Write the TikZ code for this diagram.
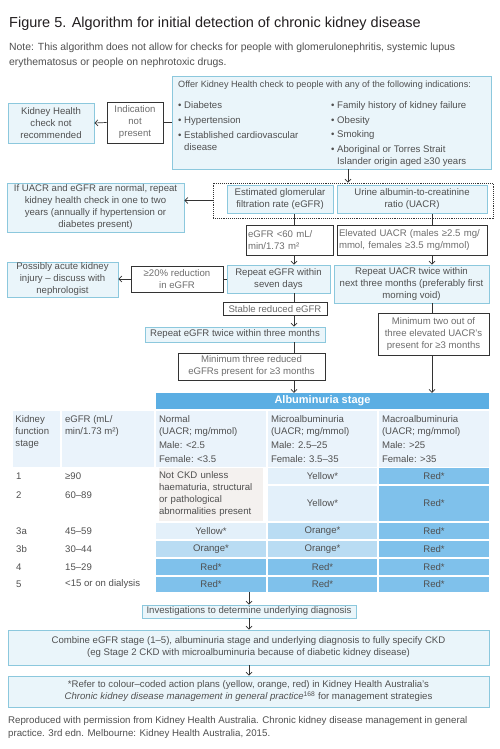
\documentclass[tikz,border=0pt]{standalone}
\usepackage{fontspec}
\setmainfont{Liberation Sans}
\usetikzlibrary{arrows.meta, positioning, calc}

\definecolor{ink}{HTML}{505050}
\definecolor{greyink}{HTML}{6E6E6E}
\definecolor{titleink}{HTML}{231F20}
\definecolor{boxfill}{HTML}{EAF5FA}
\definecolor{boxline}{HTML}{8CC8DD}
\definecolor{darkline}{HTML}{333333}
\definecolor{headblue}{HTML}{5BAEE3}
\definecolor{headrow}{HTML}{EAF3FB}
\definecolor{ckdfill}{HTML}{F4F1EF}
% cell colours, named as the table prints them
\definecolor{Yellow}{HTML}{E3F0FA}
\definecolor{Orange}{HTML}{B9DCF3}
\definecolor{Red}{HTML}{7FC1EB}

% text pinned to the top of a table cell
\newcommand{\topcell}[3]{\parbox[c][#1][t]{#2}{\raggedright #3}}

\begin{document}
\begin{tikzpicture}[
    x=1pt, y=-1pt,
    every node/.style={font=\fontsize{9.6}{12}\selectfont, text=ink},
    bluebox/.style={draw=boxline, fill=boxfill, line width=0.9pt, align=center, inner sep=1pt},
    darkbox/.style={draw=darkline, fill=white, line width=0.8pt, align=center, inner sep=2pt, text=greyink},
    headcell/.style={fill=headrow, inner sep=0pt},
    cell/.style={inner sep=0pt, align=center},
    arrow/.style={-{Straight Barb[length=3pt,width=6pt]}, darkline, line width=0.7pt},
    link/.style={darkline, line width=0.7pt}
  ]
  \path[use as bounding box, fill=white] (0,0) rectangle (500,749);

  % columns the vertical connectors run down
  \coordinate (drop) at (348,0);
  \coordinate (gcol) at (294,0);
  \coordinate (ucol) at (432,0);

  \node[anchor=base west, inner sep=0pt, font=\fontsize{14.5}{17}\selectfont, text=titleink] (title)
    at (9,28) {Figure 5. Algorithm for initial detection of chronic kidney disease};
  \node[anchor=north west, align=left, inner sep=0pt, font=\fontsize{10.4}{15}\selectfont] (note)
    at (9,43) {Note: This algorithm does not allow for checks for people with glomerulonephritis, systemic lupus\\
    erythematosus or people on nephrotoxic drugs.};

  % indications
  \node[bluebox, minimum width=319, minimum height=93] (offer) at (331.5,122.5) {};
  \node[anchor=west, inner sep=0pt, font=\fontsize{9.1}{11}\selectfont] (offerhead)
    at (178,85) {Offer Kidney Health check to people with any of the following indications:};
  \node[anchor=north west, align=left, inner sep=0pt] (riskL) at (178,101.5)
    {\textbullet\ Diabetes\\[3pt]\textbullet\ Hypertension\\[3pt]\textbullet\ Established cardiovascular\\\hphantom{\textbullet\ }disease};
  \node[anchor=north west, align=left, inner sep=0pt] (riskR) at (331,101.5)
    {\textbullet\ Family history of kidney failure\\[2.5pt]\textbullet\ Obesity\\[2.5pt]\textbullet\ Smoking\\[2.5pt]\textbullet\ Aboriginal or Torres Strait\\\hphantom{\textbullet\ }Islander origin aged ≥30 years};

  \node[bluebox, minimum width=86, minimum height=40] (notrec) at (51,123) {Kidney Health\\check not\\recommended};
  \node[darkbox, minimum width=56, minimum height=41, inner sep=1pt] (noind) at (135,122.5) {Indication\\not\\present};
  \draw[link] (offer.west) -- (noind.east);
  \draw[arrow] (noind.west) -- (notrec.east);

  % first tests
  \node[draw=darkline, densely dotted, line width=0.9pt, minimum width=280, minimum height=35] (tests) at (353,200.5) {};
  \node[bluebox, minimum width=106, minimum height=28] (egfr) at (280,199.5) {Estimated glomerular\\filtration rate (eGFR)};
  \node[bluebox, minimum width=150, minimum height=28] (uacr) at (412,199.5) {Urine albumin-to-creatinine\\ratio (UACR)};
  \draw[arrow] (offer.south -| drop) -- (tests.north -| drop);

  \node[bluebox, minimum width=177, minimum height=49] (ifnormal) at (95.5,207.5)
    {If UACR and eGFR are normal, repeat\\kidney health check in one to two\\years (annually if hypertension or\\diabetes present)};
  \draw[arrow] (tests.west) -- (tests.west -| ifnormal.east);

  % eGFR branch
  \node[darkbox, align=left, text width=83, minimum height=30] (lowegfr) at (289.5,240) {eGFR <60 mL/\\min/1.73 m²};
  \draw[link] (egfr.south -| gcol) -- (lowegfr.north -| gcol);
  \node[bluebox, minimum width=103, minimum height=28] (repeatsev) at (278.5,279) {Repeat eGFR within\\seven days};
  \draw[arrow] (lowegfr.south -| gcol) -- (repeatsev.north -| gcol);

  \node[darkbox, minimum width=92, minimum height=26, inner sep=1pt] (reduction) at (177,279) {≥20\% reduction\\in eGFR};
  \node[bluebox, minimum width=111, minimum height=35] (possibly) at (62.5,279.5) {Possibly acute kidney\\injury – discuss with\\nephrologist};
  \draw[link] (repeatsev.west) -- (reduction.east);
  \draw[arrow] (reduction.west) -- (reduction.west -| possibly.east);

  \node[darkbox, minimum width=104, minimum height=12.5, inner sep=0pt] (stable) at (275,309) {Stable reduced eGFR};
  \draw[link] (repeatsev.south -| gcol) -- (stable.north -| gcol);
  \node[bluebox, minimum width=180, minimum height=15, inner sep=0pt] (repeattwice) at (235,334.5) {Repeat eGFR twice within three months};
  \draw[arrow] (stable.south -| gcol) -- (repeattwice.north -| gcol);
  \node[darkbox, minimum width=147, minimum height=27, inner sep=1pt] (minthree) at (251.5,366.5) {Minimum three reduced\\eGFRs present for ≥3 months};
  \draw[link] (repeattwice.south -| gcol) -- (minthree.north -| gcol);

  % UACR branch
  \node[darkbox, align=left, text width=146, minimum height=30] (elevated) at (412,240) {Elevated UACR (males ≥2.5 mg/\\mmol, females ≥3.5 mg/mmol)};
  \draw[link] (uacr.south -| ucol) -- (elevated.north -| ucol);
  \node[bluebox, minimum width=155, minimum height=38] (repeatuacr) at (411.5,284) {Repeat UACR twice within\\next three months (preferably first\\morning void)};
  \draw[arrow] (elevated.south -| ucol) -- (repeatuacr.north -| ucol);
  \node[darkbox, minimum width=111, minimum height=42, inner sep=1pt] (mintwo) at (433.5,334) {Minimum two out of\\three elevated UACR's\\present for ≥3 months};
  \draw[link] (repeatuacr.south -| ucol) -- (mintwo.north -| ucol);

  % staging table
  \node[fill=headblue, minimum width=333, minimum height=16, inner sep=0pt, text=white, font=\bfseries\fontsize{11}{12}\selectfont] (albhead) at (322.5,401) {Albuminuria stage};
  \draw[arrow] (minthree.south -| gcol) -- (albhead.north -| gcol);
  \draw[arrow] (mintwo.south -| ucol) -- (albhead.north -| ucol);

  \node[headcell, minimum width=47, minimum height=56] (hA) at (36.5,439) {\topcell{46pt}{42pt}{Kidney\\function\\stage}};
  \node[headcell, minimum width=92, minimum height=56] (hB) at (108,439) {\topcell{46pt}{86pt}{eGFR (mL/\\min/1.73 m²)}};
  \node[headcell, minimum width=110, minimum height=56] (hC) at (211,439) {\topcell{46pt}{104pt}{Normal\\(UACR; mg/mmol)\\[2pt]Male: <2.5\\[2pt]Female: <3.5}};
  \node[headcell, minimum width=109, minimum height=56] (hD) at (322.5,439) {\topcell{46pt}{103pt}{Microalbuminuria\\(UACR; mg/mmol)\\[2pt]Male: 2.5–25\\[2pt]Female: 3.5–35}};
  \node[headcell, minimum width=110, minimum height=56] (hE) at (434,439) {\topcell{46pt}{104pt}{Macroalbuminuria\\(UACR; mg/mmol)\\[2pt]Male: >25\\[2pt]Female: >35}};

  \foreach \r/\yc/\h/\ly/\gfr/\lvD/\lvE in {1/476/16/476/≥90/Yellow/Red, 2/503.5/35/495/60–89/Yellow/Red,
      3a/531/16/531/45–59/Orange/Red, 3b/549/16/549/30–44/Orange/Red,
      4/567/16/567/15–29/Red/Red, 5/584.5/15/584.5/<15 or on dialysis/Red/Red}{
    \node[anchor=west, inner sep=0pt] (stage\r) at (16,\ly) {\r};
    \node[anchor=west, inner sep=0pt] (gfr\r) at (65,\ly) {\gfr};
    \node[cell, fill=\lvD, minimum width=109, minimum height=\h] (d\r) at (322.5,\yc) {\lvD*};
    \node[cell, fill=\lvE, minimum width=110, minimum height=\h] (e\r) at (434,\yc) {\lvE*};
  }
  \node[cell, fill=ckdfill, align=left, text width=104, minimum height=53] (c12) at (211,494.5)
    {Not CKD unless\\haematuria, structural\\or pathological\\abnormalities present};
  \foreach \r/\yc/\h/\lvC in {3a/531/16/Yellow, 3b/549/16/Orange, 4/567/16/Red, 5/584.5/15/Red}
    \node[cell, fill=\lvC, minimum width=110, minimum height=\h] (c\r) at (211,\yc) {\lvC*};

  % after staging
  \node[bluebox, minimum width=214, minimum height=13, inner sep=0pt] (invest) at (249,611.5) {Investigations to determine underlying diagnosis};
  \draw[arrow] (c5.south -| invest) -- (invest.north);
  \node[bluebox, minimum width=481, minimum height=35] (combine) at (248.5,647.5)
    {Combine eGFR stage (1–5), albuminuria stage and underlying diagnosis to fully specify CKD\\(eg Stage 2 CKD with microalbuminuria because of diabetic kidney disease)};
  \draw[arrow] (invest.south) -- (invest.south |- combine.north);
  \node[bluebox, minimum width=481, minimum height=31] (refer) at (248.5,691.5)
    {*Refer to colour–coded action plans (yellow, orange, red) in Kidney Health Australia's\\\textit{Chronic kidney disease management in general practice}\textsuperscript{168} for management strategies};
  \draw[arrow] (combine.south -| invest) -- (refer.north -| invest);

  \node[anchor=north west, align=left, inner sep=0pt, font=\fontsize{9.7}{13}\selectfont] (source) at (8,716)
    {Reproduced with permission from Kidney Health Australia. Chronic kidney disease management in general\\
    practice. 3rd edn. Melbourne: Kidney Health Australia, 2015.};
\end{tikzpicture}
\end{document}
